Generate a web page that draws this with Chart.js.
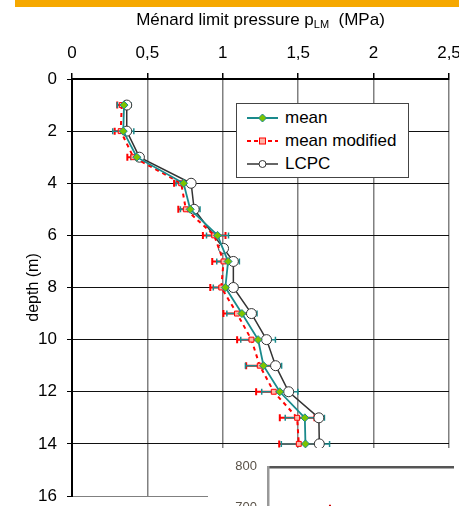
<!DOCTYPE html>
<html>
<head>
<meta charset="utf-8">
<script src="https://cdn.jsdelivr.net/npm/chart.js@4.4.1/dist/chart.umd.min.js"></script>
<style>
  html, body { margin: 0; padding: 0; background: #fff; overflow: hidden; }
  body { width: 459px; height: 506px; position: relative; font-family: "Liberation Sans", Arial, sans-serif; }
  #topBar { position: absolute; left: 15px; top: 0; width: 444px; height: 7px; background: #f6a800; }
  #title { position: absolute; left: 72px; width: 377px; top: 10px; text-align: center; font-size: 17px; line-height: 20px; color: #000; }
  #title sub { font-size: 11px; vertical-align: -3px; line-height: 0; }
  #chart { position: absolute; left: 0; top: 0; }
  #legend { position: absolute; left: 236px; top: 103px; width: 171px; height: 71px; border: 1px solid #444; background: #fff; padding-top: 2px; box-sizing: content-box; }
  #legend .row { height: 23.3px; display: flex; align-items: center; font-size: 17px; color: #000; }
  #legend svg { margin-left: 10px; margin-right: 7px; }
  #inset { position: absolute; left: 208px; top: 448px; width: 251px; height: 58px; overflow: hidden; background: #fff; }
  #insetChart { position: absolute; left: 0; top: 0; filter: blur(0.4px); }
</style>
</head>
<body>
<div id="topBar"></div>
<canvas id="chart" width="459" height="506"></canvas>
<div id="title">Ménard limit pressure p<sub>LM</sub>&nbsp; (MPa)</div>
<div id="legend"></div>
<div id="inset"><canvas id="insetChart" width="251" height="360"></canvas></div>

<script>
// -------------------------
// Data
// -------------------------
const seriesLabels = ["mean", "mean modified", "LCPC"];
const xTicks = [0, 0.5, 1, 1.5, 2, 2.5];
const depthTicks = [0, 2, 4, 6, 8, 10, 12, 14, 16];

const depths = [1, 2, 3, 4, 5, 6, 7, 8, 9, 10, 11, 12, 13, 14];
const meanVals = [0.345, 0.34, 0.43, 0.74, 0.784, 0.965, 1.035, 1.017, 1.127, 1.234, 1.27, 1.378, 1.544, 1.548];
const meanErr  = [0.045, 0.07, 0.04, 0.05, 0.065, 0.073, 0.075, 0.08, 0.1, 0.115, 0.12, 0.12, 0.13, 0.16];
const modVals  = [0.33, 0.323, 0.407, 0.724, 0.755, 0.943, 1.005, 0.99, 1.094, 1.19, 1.245, 1.338, 1.493, 1.504];
const modErr   = [0.03, 0.04, 0.04, 0.047, 0.05, 0.075, 0.075, 0.073, 0.09, 0.095, 0.09, 0.117, 0.115, 0.13];

const lcpcDepths = [1, 2, 3, 4, 5, 6.5, 7, 8, 9, 10, 11, 12, 13, 14];
const lcpcVals   = [0.363, 0.363, 0.447, 0.79, 0.81, 1.005, 1.07, 1.07, 1.19, 1.29, 1.35, 1.437, 1.637, 1.64];

// inset (second figure peeking in at the corner)
const insetTicks = [700, 800];
const insetPoint = [{ x: 0.335, y: 696 }];

// -------------------------
// Styles
// -------------------------
const teal = "#1a8a8c";
const green = "#7cc400";
const red = "#ff0000";
const pink = "#ffb3a6";
const dark = "#333333";

const toComma = v => String(v).replace(".", ",");

// -------------------------
// Error bars plugin
// -------------------------
const errorBars = {
  id: "errorBars",
  beforeDatasetsDraw(chart) {
    const { ctx, scales: { x, y } } = chart;
    chart.data.datasets.forEach(ds => {
      if (!ds.errors) return;
      ctx.save();
      ctx.setLineDash([]);
      ctx.strokeStyle = ds.errColor;
      ctx.lineWidth = ds.errWidth;
      ds.data.forEach((p, j) => {
        const py = y.getPixelForValue(p.y);
        const x0 = x.getPixelForValue(p.x - ds.errors[j]);
        const x1 = x.getPixelForValue(p.x + ds.errors[j]);
        ctx.beginPath();
        ctx.moveTo(x0, py); ctx.lineTo(x1, py);
        ctx.moveTo(x0, py - ds.errCap); ctx.lineTo(x0, py + ds.errCap);
        ctx.moveTo(x1, py - ds.errCap); ctx.lineTo(x1, py + ds.errCap);
        ctx.stroke();
      });
      ctx.restore();
    });
  }
};

// -------------------------
// Main chart
// -------------------------
const ctx = document.getElementById("chart").getContext("2d");
new Chart(ctx, {
  type: "scatter",
  data: {
    datasets: [
      {
        label: seriesLabels[2],
        data: lcpcDepths.map((d, i) => ({ x: lcpcVals[i], y: d })),
        showLine: true,
        borderColor: dark,
        borderWidth: 1.5,
        pointStyle: "circle",
        pointRadius: 5,
        pointBackgroundColor: "#fff",
        pointBorderColor: dark,
        pointBorderWidth: 1,
        order: 3
      },
      {
        label: seriesLabels[1],
        data: depths.map((d, i) => ({ x: modVals[i], y: d })),
        errors: modErr,
        errColor: red,
        errWidth: 2,
        errCap: 3.5,
        showLine: true,
        borderColor: red,
        borderWidth: 2,
        borderDash: [4, 4],
        pointStyle: "rect",
        pointRadius: 3.5,
        pointBackgroundColor: pink,
        pointBorderColor: red,
        pointBorderWidth: 1,
        order: 2
      },
      {
        label: seriesLabels[0],
        data: depths.map((d, i) => ({ x: meanVals[i], y: d })),
        errors: meanErr,
        errColor: teal,
        errWidth: 1.5,
        errCap: 3,
        showLine: true,
        borderColor: teal,
        borderWidth: 1.8,
        pointStyle: "rectRot",
        pointRadius: 4,
        pointBackgroundColor: green,
        pointBorderColor: teal,
        pointBorderWidth: 1,
        order: 1
      }
    ]
  },
  options: {
    responsive: false,
    devicePixelRatio: 1,
    animation: false,
    events: [],
    layout: { padding: { left: 0, top: 0, right: 10, bottom: 10 } },
    plugins: { legend: { display: false }, tooltip: { enabled: false } },
    scales: {
      x: {
        type: "linear",
        position: "top",
        min: 0,
        max: 2.5,
        afterBuildTicks: s => { s.ticks = xTicks.map(v => ({ value: v })); },
        ticks: {
          callback: v => toComma(v),
          color: "#000",
          font: { family: "Liberation Sans", size: 17 },
          padding: 9,
          maxRotation: 0
        },
        grid: { color: "#808080", lineWidth: 1.5, tickLength: 6, tickColor: "#000" },
        border: { display: true, color: "#000", width: 2 },
        afterFit: s => { s.height = 79; s.paddingLeft = 0; s.paddingRight = 0; }
      },
      y: {
        type: "linear",
        reverse: true,
        min: 0,
        max: 16,
        afterBuildTicks: s => { s.ticks = depthTicks.map(v => ({ value: v })); },
        ticks: {
          color: "#000",
          font: { family: "Liberation Sans", size: 17 },
          padding: 10
        },
        title: {
          display: true,
          text: "depth (m)",
          color: "#000",
          font: { family: "Liberation Sans", size: 16 },
          padding: { top: 24, bottom: 0 }
        },
        grid: {
          color: c => (c.tick && c.tick.value === 16 ? "#808080" : "#111"),
          lineWidth: 1,
          tickLength: 5,
          tickColor: "#000"
        },
        border: { display: true, color: "#000", width: 2 },
        afterFit: s => { s.width = 72; s.paddingTop = 0; s.paddingBottom = 0; }
      }
    }
  },
  plugins: [errorBars]
});

// -------------------------
// Legend (line + marker samples)
// -------------------------
const legendSamples = [
  `<line x1="0" y1="6" x2="31" y2="6" stroke="${teal}" stroke-width="2"/>
   <polygon points="15.5,2 19.5,6 15.5,10 11.5,6" fill="${green}" stroke="${teal}" stroke-width="1"/>`,
  `<line x1="0" y1="6" x2="31" y2="6" stroke="${red}" stroke-width="2" stroke-dasharray="4,3"/>
   <rect x="12.5" y="3" width="6" height="6" fill="${pink}" stroke="${red}" stroke-width="1"/>`,
  `<line x1="0" y1="6" x2="31" y2="6" stroke="${dark}" stroke-width="1.5"/>
   <circle cx="15.5" cy="6" r="3.5" fill="#fff" stroke="${dark}" stroke-width="1"/>`
];
document.getElementById("legend").innerHTML = seriesLabels.map((lbl, i) => `
  <div class="row"><svg width="31" height="12">${legendSamples[i]}</svg><span>${lbl}</span></div>
`).join("");

// -------------------------
// Inset chart (cropped)
// -------------------------
new Chart(document.getElementById("insetChart").getContext("2d"), {
  type: "scatter",
  data: {
    datasets: [{
      data: insetPoint,
      pointStyle: "line",
      rotation: 90,
      pointRadius: 4,
      borderColor: "#d00000",
      borderWidth: 2
    }]
  },
  options: {
    responsive: false,
    devicePixelRatio: 1,
    animation: false,
    events: [],
    layout: { padding: { left: 0, top: 14, right: 0, bottom: 0 } },
    plugins: { legend: { display: false }, tooltip: { enabled: false } },
    scales: {
      x: {
        type: "linear",
        position: "top",
        min: 0,
        max: 1,
        ticks: { display: false },
        grid: { drawOnChartArea: false, drawTicks: false },
        border: { display: true, color: "#555", width: 2.5 }
      },
      y: {
        min: 0,
        max: 800,
        afterBuildTicks: s => { s.ticks = insetTicks.map(v => ({ value: v })); },
        ticks: { color: "#5a5248", font: { family: "Liberation Sans", size: 13 }, padding: 11 },
        grid: { drawOnChartArea: false, drawTicks: false },
        border: { display: true, color: "#999", width: 2.5 },
        afterFit: s => { s.width = 60; }
      }
    }
  }
});
</script>
</body>
</html>
